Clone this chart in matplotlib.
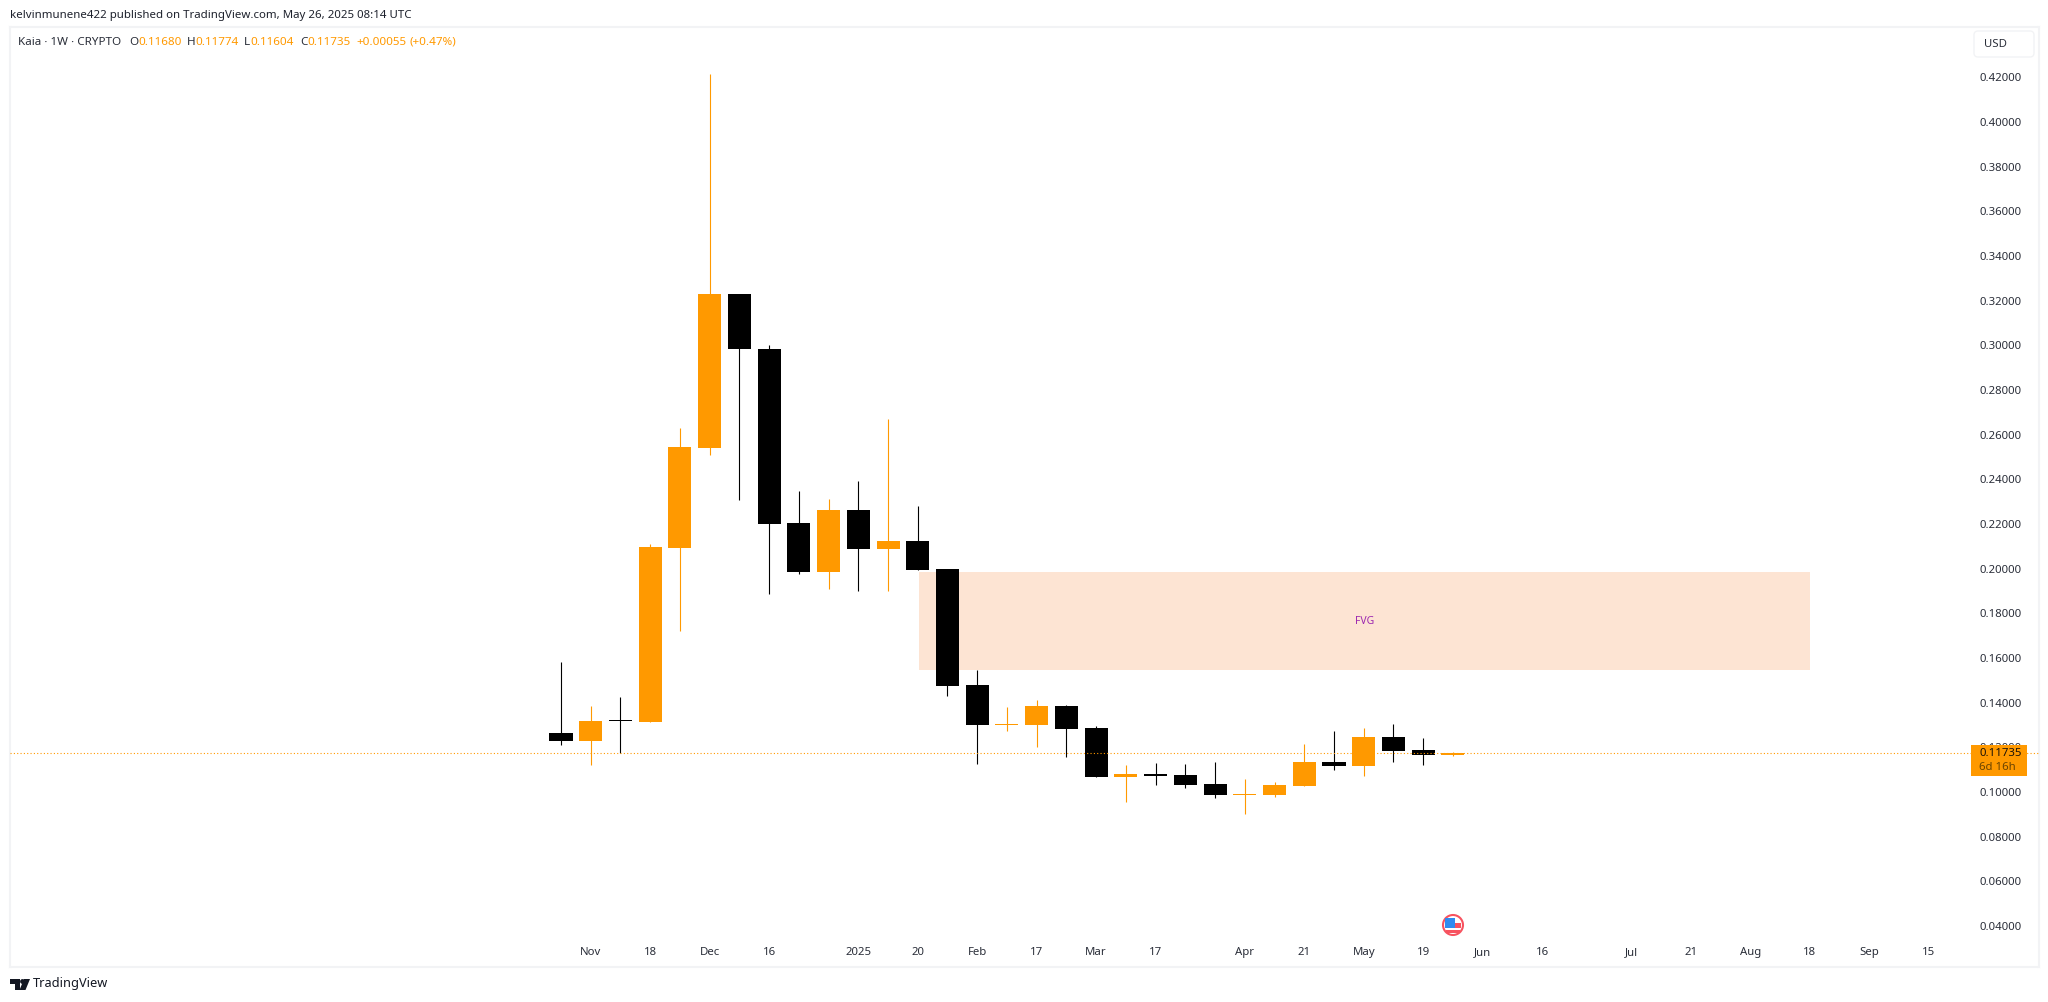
import matplotlib
matplotlib.use('Agg')
import matplotlib.pyplot as plt
from matplotlib.patches import Rectangle, FancyBboxPatch, Circle, Polygon

plt.rcParams['font.family'] = ['Noto Sans', 'DejaVu Sans']

ORANGE = '#ff9900'
TEXT = '#2a2e39'
BORDER = '#f2f3f5'

# weekly candles, first one is the week of Oct 28 2024
opens = [.1264, .1229, .1322, .1314, .2092, .2540, .3229, .2983, .2204, .1985, .2263,
         .2088, .2124, .1998, .1479, .1301, .1300, .1385, .1287, .1067, .1081, .1076,
         .1036, .0988, .0987, .1027, .1135, .1117, .1246, .1188, .11680]
highs = [.1582, .1385, .1425, .2110, .2630, .4212, .3229, .3001, .2348, .2312, .2392,
         .2670, .2280, .1998, .1546, .1381, .1412, .1390, .1296, .1121, .1130, .1126,
         .1135, .1059, .1045, .1215, .1273, .1287, .1305, .1242, .11774]
lows = [.1211, .1121, .1175, .1314, .1721, .2509, .2307, .1887, .1976, .1909, .1900,
        .1900, .1994, .1430, .1126, .1273, .1202, .1157, .1067, .0956, .1032, .1018,
        .0973, .0902, .0978, .1027, .1099, .1072, .1135, .1121, .11604]
closes = [.1229, .1318, .1316, .2097, .2545, .3229, .2983, .2200, .1985, .2263, .2088,
          .2124, .1994, .1474, .1300, .1305, .1385, .1282, .1067, .1081, .1072, .1032,
          .0987, .0992, .1032, .1135, .1117, .1246, .1184, .1166, .11735]

last_price = 0.11735
fvg_start, fvg_end = 12.04, 42.0
fvg_low, fvg_high = 0.1546, 0.1985

y_ticks = [.04, .06, .08, .10, .12, .14, .16, .18, .20, .22, .24, .26, .28, .30, .32, .34, .36, .38, .40, .42]
x_ticks = [1, 3, 5, 7, 10, 12, 14, 16, 18, 20, 23, 25, 27, 29, 31, 33, 36, 38, 40, 42, 44, 46]
x_labels = ['Nov', '18', 'Dec', '16', '2025', '20', 'Feb', '17', 'Mar', '17', 'Apr', '21',
            'May', '19', 'Jun', '16', 'Jul', '21', 'Aug', '18', 'Sep', '15']

W, H = 2048, 1002
fig = plt.figure(figsize=(W / 100, H / 100), dpi=100, facecolor='white')

# chart pane, limits chosen so candle spacing and price scale line up with the frame
L, R, T, B = 10, 2039, 27, 967
ax = fig.add_axes([L / W, 1 - B / H, (R - L) / W, (B - T) / H])
ax.set_xlim((L - 561) / 29.73, (R - 561) / 29.73)
ax.set_ylim(last_price + (753.3 - B) / 2234, last_price + (753.3 - T) / 2234)

ax.add_patch(Rectangle((fvg_start, fvg_low), fvg_end - fvg_start, fvg_high - fvg_low,
                       facecolor='#fde4d3', edgecolor='none', zorder=1))
ax.text((fvg_start + fvg_end) / 2, 0.1765, 'FVG', color='#9c27b0', fontsize=7.5,
        ha='center', va='center', zorder=2)

xs = list(range(len(opens)))
colors = [ORANGE if c >= o else 'black' for o, c in zip(opens, closes)]
wicks = ax.vlines(xs, lows, highs, colors=colors, linewidth=0.8, zorder=3)
wicks.set_snap(True)
ax.bar(xs, [abs(c - o) for o, c in zip(opens, closes)], bottom=[min(o, c) for o, c in zip(opens, closes)],
       width=0.775, color=colors, linewidth=0, zorder=4)

ax.axhline(last_price, color=ORANGE, linewidth=0.8, linestyle=(0, (1, 2)), zorder=5)

ax.set_yticks(y_ticks)
ax.set_yticklabels(['%.5f' % v for v in y_ticks])
ax.set_xticks(x_ticks)
ax.set_xticklabels(x_labels)
ax.tick_params(axis='y', left=False, labelleft=False, right=False, labelright=True,
               length=0, pad=-43, labelsize=8.2, labelcolor=TEXT)
ax.tick_params(axis='x', bottom=False, length=0, pad=-14.5, labelsize=8.2, labelcolor=TEXT)
ax.get_xticklabels()[x_labels.index('2025')].set_fontweight('bold')

for s in ax.spines.values():
    s.set_color(BORDER)
    s.set_linewidth(1.5)

# overlay in pixel coordinates for the TradingView chrome
ov = fig.add_axes([0, 0, 1, 1], zorder=10)
ov.set_xlim(0, W)
ov.set_ylim(H, 0)
ov.axis('off')
ov.patch.set_alpha(0)

ov.text(10, 15, 'kelvinmunene422 published on TradingView.com, May 26, 2025 08:14 UTC',
        fontsize=8.25, color='#1e222d', va='center')

ov.text(18, 42, 'Kaia · 1W · CRYPTO', fontsize=8.4, color=TEXT, va='center')
legend_bits = [(129, 'O', TEXT), (138, '0.11680', ORANGE), (187, 'H', TEXT), (195, '0.11774', ORANGE),
               (244, 'L', TEXT), (250, '0.11604', ORANGE), (300, 'C', TEXT), (307, '0.11735', ORANGE),
               (356, '+0.00055', ORANGE), (409, '(+0.47%)', ORANGE)]
for x, s, c in legend_bits:
    ov.text(x, 42, s, fontsize=8.4, color=c, va='center')

ov.add_patch(FancyBboxPatch((1977, 34), 54, 20, boxstyle='round,pad=3,rounding_size=4',
                            facecolor='white', edgecolor=BORDER, linewidth=1))
ov.text(1984, 44, 'USD', fontsize=8.2, color=TEXT, va='center')

# last price tag
ov.add_patch(Rectangle((1971, 745), 56, 31, facecolor=ORANGE, edgecolor='none'))
ov.text(1979, 753.5, '0.11735', fontsize=8.2, color='#1a1208', va='center')
ov.text(1979, 768, '6d 16h', fontsize=8.2, color='#6b4400', va='center')

# economic event flag
fx, fy = 1453, 925
ov.add_patch(Circle((fx, fy), 10, facecolor='white', edgecolor='#f7525f', linewidth=1.5))
ov.add_patch(Rectangle((fx - 8, fy - 2), 16, 5, facecolor='#f7525f', edgecolor='none'))
ov.add_patch(Rectangle((fx - 7, fy + 5), 14, 3, facecolor='#f7525f', edgecolor='none'))
ov.add_patch(Rectangle((fx - 8, fy - 7), 10, 10, facecolor='#2f8bf0', edgecolor='none'))

# logo
ov.add_patch(Polygon([(10, 979), (20, 979), (20, 990), (15, 990), (15, 984), (10, 984)], facecolor='#131722', edgecolor='none'))
ov.add_patch(Circle((22.5, 981.5), 2.4, facecolor='#131722', edgecolor='none'))
ov.add_patch(Polygon([(24, 979), (30, 979), (25.5, 990), (19.5, 990)], facecolor='#131722', edgecolor='none'))
ov.text(33, 984, 'TradingView', fontsize=9.2, color='#131722', va='center')

fig.savefig('out.png', dpi=100)
